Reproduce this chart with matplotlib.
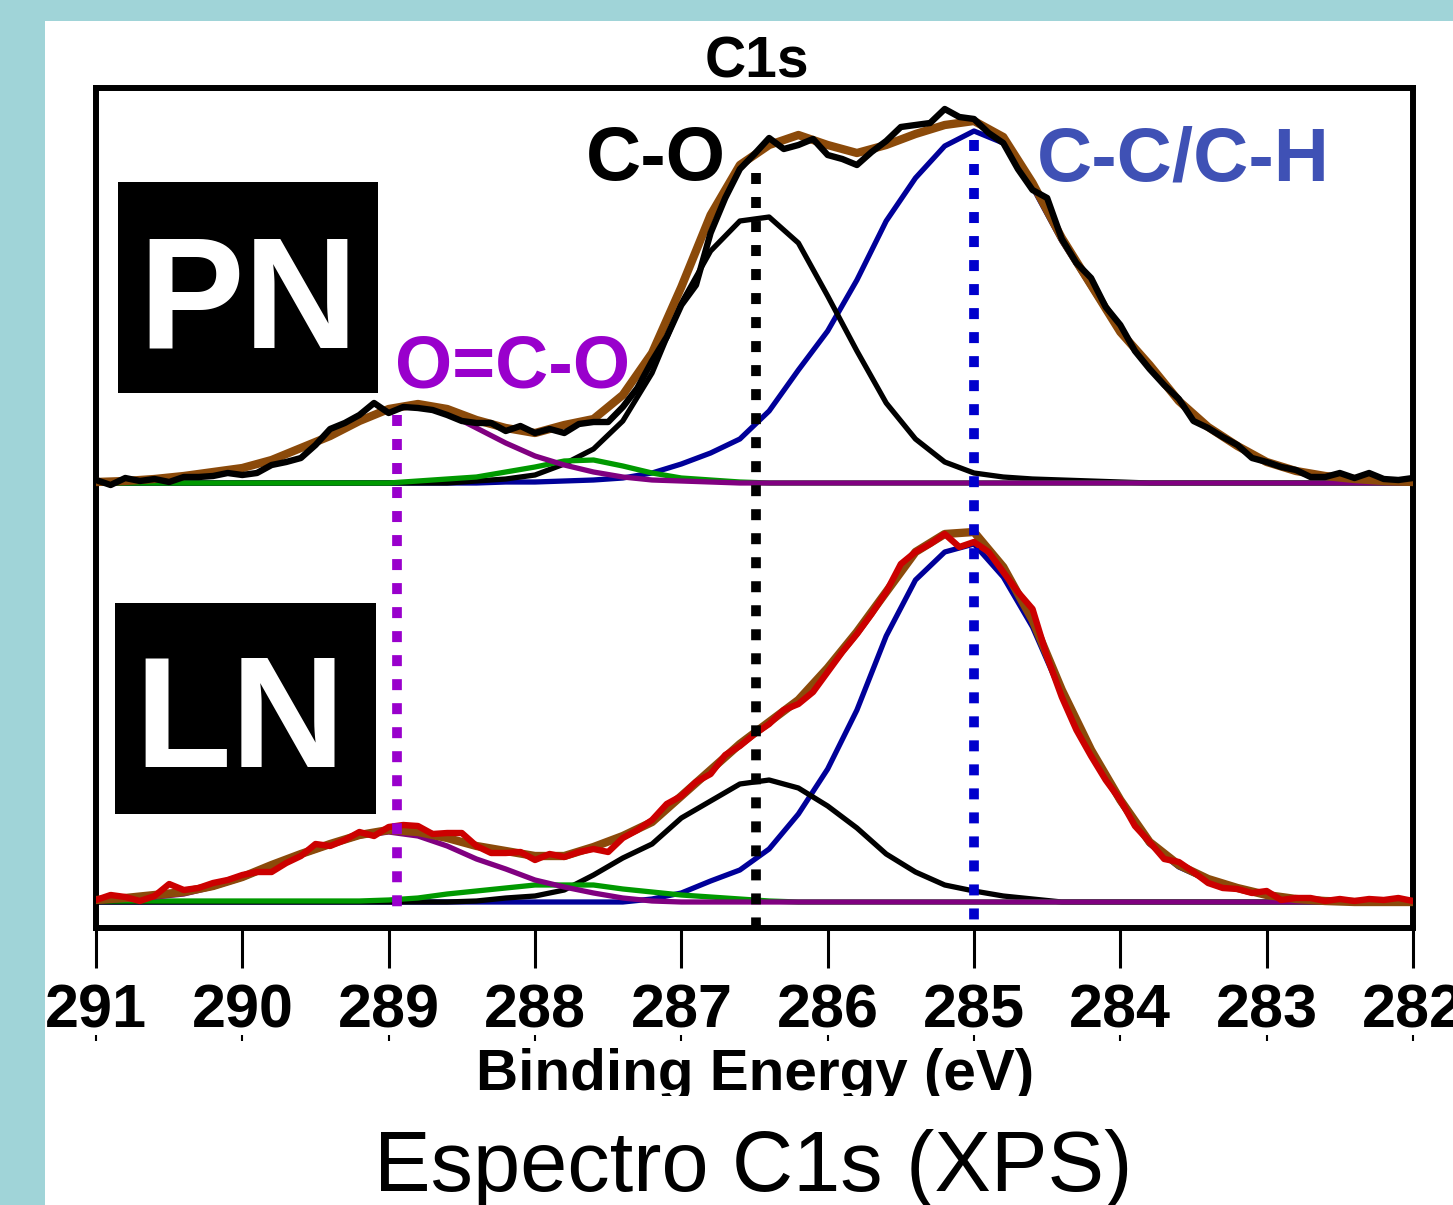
import matplotlib
matplotlib.use('Agg')
import matplotlib.pyplot as plt
import numpy as np
from matplotlib.patches import Rectangle

plt.rcParams['font.family'] = ['Liberation Sans', 'DejaVu Sans']

W, H, DPI = 1453, 1205, 100

# ---------------- data ----------------
energy_exp = np.linspace(291.0, 282.0, 91)   # measured points, 0.1 eV
energy_fit = np.linspace(291.0, 282.0, 46)   # fitted curves, 0.2 eV
tick_values = [291, 290, 289, 288, 287, 286, 285, 284, 283, 282]

peak_OCO = 288.94
peak_CO = 286.49
peak_CC = 285.0

# PN sample
pn_exp = [3, -2, 5, 2, 4, 1, 6, 6, 7, 10,
          8, 10, 18, 21, 25, 38, 54, 60, 68, 80,
          70, 76, 75, 73, 68, 62, 60, 60, 52, 57,
          50, 54, 50, 59, 61, 61, 76, 95, 122, 146,
          178, 198, 250, 285, 314, 329, 345, 334, 338, 344,
          328, 324, 318, 331, 342, 356, 358, 360, 374, 366,
          364, 350, 340, 314, 293, 285, 244, 220, 205, 176,
          158, 132, 114, 98, 84, 62, 55, 46, 38, 25,
          21, 16, 13, 6, 6, 10, 5, 10, 4, 3,
          5]
pn_env = [1, 2, 4, 7, 11, 15, 23, 35, 47, 62, 74, 79, 74, 63, 55, 50, 58, 64, 88, 130,
          196, 268, 318, 338, 348, 338, 330, 338, 349, 358, 362, 346, 300, 245, 198, 151,
          118, 82, 56, 37, 21, 12, 7, 4, 2, 1]
pn_oco = [1, 2, 4, 7, 11, 15, 23, 35, 47, 62, 74, 77, 70, 55, 40, 27, 18, 11, 6, 3,
          2, 1] + [0] * 24
pn_green = [0] * 11 + [2, 4, 6, 11, 16, 22, 23, 17, 10, 5, 3, 1] + [0] * 23
pn_co = [0] * 13 + [2, 4, 8, 19, 34, 62, 110, 180, 232, 262, 266, 240, 187, 132, 80,
                    44, 21, 10, 6, 4, 3, 2, 1] + [0] * 10
pn_cc = [0] * 14 + [1, 1, 2, 3, 5, 10, 19, 30, 44, 72, 113, 152, 203, 262, 305, 337,
                    352, 340, 296, 242, 196, 150, 118, 82, 56, 37, 21, 12, 7, 4, 2, 1]

# LN sample
ln_exp = [2, 7, 5, 1, 6, 18, 12, 14, 19, 22,
          27, 30, 30, 39, 46, 58, 56, 62, 70, 66,
          75, 77, 76, 68, 69, 69, 56, 49, 49, 50,
          42, 48, 45, 50, 53, 50, 64, 72, 82, 98,
          106, 120, 128, 147, 156, 168, 178, 192, 198, 210,
          230, 250, 268, 288, 310, 338, 350, 358, 368, 355,
          360, 350, 330, 310, 293, 245, 205, 172, 146, 122,
          102, 76, 60, 43, 40, 30, 19, 14, 13, 9,
          11, 2, 4, 4, 1, 3, 1, 3, 2, 4,
          1]
ln_env = [2, 4, 7, 10, 16, 25, 37, 48, 58, 67, 72, 70, 64, 56, 51, 46, 46, 55, 66, 80,
          106, 132, 158, 180, 202, 234, 270, 310, 350, 368, 370, 335, 282, 212, 152, 102,
          60, 37, 23, 14, 7, 3, 1, 0, 0, 0]
ln_oco = [1, 3, 5, 8, 15, 24, 36, 47, 57, 66, 70, 66, 56, 43, 33, 22, 15, 9, 4, 1] + [0] * 26
ln_green = [1] * 10 + [2, 4, 8, 11, 14, 17, 17, 17, 13, 10, 7, 5, 3, 1] + [0] * 22
ln_co = [0] * 13 + [1, 4, 6, 12, 27, 44, 58, 84, 101, 118, 122, 114, 96, 74, 48, 30, 17,
                    11, 6, 3] + [0] * 13
ln_cc = [0] * 19 + [3, 9, 21, 32, 53, 88, 133, 192, 266, 322, 350, 358, 325, 275, 208,
                    150, 100, 58, 35, 22, 14, 7, 2, 1] + [0, 0, 0]

PN_OFFSET = 445
LN_OFFSET = 26

# ---------------- style ----------------
C_EXP_PN = 'black'
C_EXP_LN = '#CC0000'
C_ENV = '#8B4A0A'
C_OCO = '#800080'
C_GREEN = '#009900'
C_CO = 'black'
C_CC = '#000099'
C_DOT_OCO = '#9900CC'
C_DOT_CC = '#0000CC'
C_LBL_CC = '#3F51B5'


def fx(x):
    return x / W


def fy(y):
    return 1 - y / H


fig = plt.figure(figsize=(W / DPI, H / DPI), dpi=DPI, facecolor='#A0D4D8')
fig.patches.append(Rectangle((fx(45), 0), 1 - fx(45), fy(21), transform=fig.transFigure,
                             facecolor='white', edgecolor='none', zorder=-10))

ax = fig.add_axes([fx(96), fy(928), (1413 - 96) / W, (928 - 88) / H])
ax.set_xlim(291, 282)
ax.set_ylim(0, 840)

for off, exp, exp_c, env, oco, green, co, cc in [
        (PN_OFFSET, pn_exp, C_EXP_PN, pn_env, pn_oco, pn_green, pn_co, pn_cc),
        (LN_OFFSET, ln_exp, C_EXP_LN, ln_env, ln_oco, ln_green, ln_co, ln_cc)]:
    ax.plot(energy_fit, off + np.array(cc), color=C_CC, lw=3.8, zorder=2)
    ax.plot(energy_fit, off + np.array(co), color=C_CO, lw=3.8, zorder=2)
    ax.plot(energy_fit, off + np.array(green), color=C_GREEN, lw=3.8, zorder=2)
    ax.plot(energy_fit, off + np.array(oco), color=C_OCO, lw=3.8, zorder=2)
    ax.plot(energy_fit, off + np.array(env), color=C_ENV, lw=6.0, zorder=3)
    ax.plot(energy_exp, off + np.array(exp), color=exp_c, lw=4.6, zorder=4)

dot = (0, (1.13, 1.34))
ax.plot([peak_OCO, peak_OCO], [928 - 415, 928 - 912], color=C_DOT_OCO, lw=7,
        linestyle=dot, dash_capstyle='butt', zorder=5, clip_on=False)
ax.plot([peak_CO, peak_CO], [928 - 173, 928 - 935], color='black', lw=7,
        linestyle=dot, dash_capstyle='butt', zorder=5, clip_on=False)
ax.plot([peak_CC, peak_CC], [928 - 140, 928 - 926], color=C_DOT_CC, lw=7,
        linestyle=dot, dash_capstyle='butt', zorder=5, clip_on=False)

for s in ax.spines.values():
    s.set_linewidth(4.3)
ax.set_yticks([])
ax.set_xticks(tick_values)
ax.set_xticklabels([str(t) for t in tick_values])
ax.tick_params(axis='x', direction='out', length=29, width=2.2, pad=11, labelsize=44)
for lab in ax.get_xticklabels():
    lab.set_fontweight('bold')

# small secondary tick marks under the labels
sec = ax.secondary_xaxis((928 - 1035) / 840)
sec.set_xticks(tick_values)
sec.set_xticklabels([])
sec.tick_params(direction='out', length=4.5, width=1.5)
sec.spines['bottom'].set_visible(False)

# sample boxes
for (x0, y0, x1, y1), label, bx, by in [((118, 182, 378, 393), 'PN', 248, 347),
                                        ((115, 603, 376, 814), 'LN', 240, 767)]:
    ax.add_patch(Rectangle((fx(x0), fy(y1)), fx(x1) - fx(x0), fy(y0) - fy(y1),
                           transform=fig.transFigure, facecolor='black',
                           edgecolor='none', zorder=6, clip_on=False))
    ax.text(fx(bx), fy(by), label, transform=fig.transFigure, color='white',
            fontsize=114, fontweight='bold', ha='center', va='baseline', zorder=7)

ax.text(fx(513), fy(388), 'O=C-O', transform=fig.transFigure, color=C_DOT_OCO,
        fontsize=53, fontweight='bold', ha='center', va='baseline', zorder=7)
ax.text(fx(656), fy(180), 'C-O', transform=fig.transFigure, color='black',
        fontsize=55, fontweight='bold', ha='center', va='baseline', zorder=7)
ax.text(fx(1183), fy(181), 'C-C/C-H', transform=fig.transFigure, color=C_LBL_CC,
        fontsize=55, fontweight='bold', ha='center', va='baseline', zorder=7)

fig.text(fx(757), fy(78), 'C1s', fontsize=41, fontweight='bold', ha='center',
         va='baseline')
fig.text(fx(755), fy(1090), 'Binding Energy (eV)', fontsize=42, fontweight='bold',
         ha='center', va='baseline', zorder=3)
fig.patches.append(Rectangle((fx(440), fy(1113)), fx(1070) - fx(440), fy(1096) - fy(1113),
                             transform=fig.transFigure, facecolor='white',
                             edgecolor='none', zorder=10))
fig.text(fx(753), fy(1191), 'Espectro C1s (XPS)', fontsize=61, ha='center',
         va='baseline', zorder=11)

fig.savefig('out.png', dpi=DPI, facecolor=fig.get_facecolor())
